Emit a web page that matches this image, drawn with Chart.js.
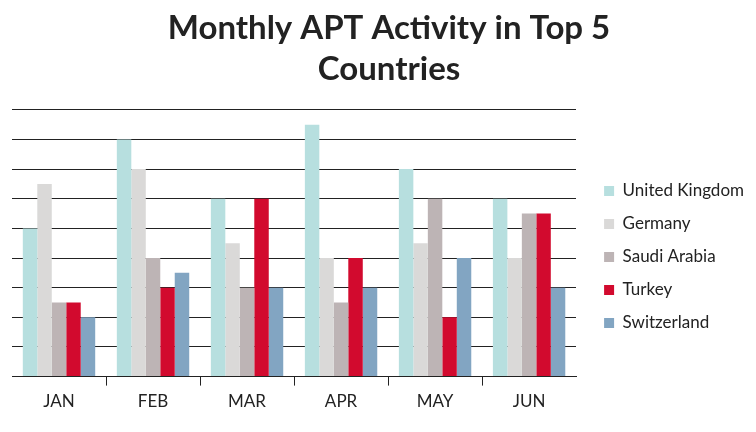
<!DOCTYPE html>
<html>
<head>
<meta charset="utf-8">
<script src="https://cdn.jsdelivr.net/npm/chart.js@4"></script>
<style>
    body { margin: 0; background: #fff; }
    #wrap { width: 756px; height: 432px; }
</style>
</head>
<body>
<div id="wrap"><canvas id="aptChart" width="756" height="432"></canvas></div>
<script>
// Chart data
const months = ['JAN', 'FEB', 'MAR', 'APR', 'MAY', 'JUN'];
const unitedKingdom = [5, 8, 6, 8.5, 7, 6];
const germany = [6.5, 7, 4.5, 4, 4.5, 4];
const saudiArabia = [2.5, 4, 3, 2.5, 6, 5.5];
const turkey = [2.5, 3, 6, 4, 2, 5.5];
const switzerland = [2, 3.5, 3, 3, 4, 3];

const inkColor = '#222222';
Chart.defaults.font.family = 'Lato';
Chart.defaults.color = inkColor;

// hide the grid ticks at both ends of the category axis
function innerTickColor(ctx) {
    return ctx.index > 0 ? inkColor : 'transparent';
}

// the original title sits a bit right of the canvas centre
const titleNudge = {
    id: 'titleNudge',
    afterLayout(chart) {
        chart.titleBlock.left += 6;
        chart.titleBlock.right += 6;
    }
};

const ctx = document.getElementById('aptChart').getContext('2d');
const aptChart = new Chart(ctx, {
    type: 'bar',
    data: {
        labels: months,
        datasets: [
            { label: 'United Kingdom', data: unitedKingdom, backgroundColor: '#b7dfdf' },
            { label: 'Germany', data: germany, backgroundColor: '#dad9d8' },
            { label: 'Saudi Arabia', data: saudiArabia, backgroundColor: '#bdb4b5' },
            { label: 'Turkey', data: turkey, backgroundColor: '#d20a2e' },
            { label: 'Switzerland', data: switzerland, backgroundColor: '#82a5c2' }
        ]
    },
    plugins: [titleNudge],
    options: {
        responsive: false,
        animation: false,
        layout: {
            padding: { left: 12, right: 2, top: 0, bottom: 14 }
        },
        datasets: {
            bar: {
                barPercentage: 1,
                categoryPercentage: 0.77
            }
        },
        plugins: {
            title: {
                display: true,
                text: ['Monthly APT Activity in Top 5', 'Countries'],
                font: { size: 33, weight: 'bold', lineHeight: 1.24 },
                color: inkColor,
                padding: { top: 8, bottom: 20 }
            },
            legend: {
                position: 'right',
                // empty title only pushes the items down
                title: {
                    display: true,
                    text: ' ',
                    font: { size: 10 },
                    padding: { top: 0, bottom: 84 }
                },
                labels: {
                    boxWidth: 10,
                    boxHeight: 10,
                    padding: 16,
                    font: { size: 17 },
                    color: inkColor
                }
            },
            tooltip: { enabled: false }
        },
        scales: {
            x: {
                grid: {
                    drawOnChartArea: false,
                    drawTicks: true,
                    tickLength: 9,
                    color: innerTickColor
                },
                border: { display: true, color: inkColor, width: 1 },
                ticks: {
                    font: { size: 17 },
                    color: inkColor,
                    padding: 6
                }
            },
            y: {
                // sits on the right, no labels: it only leaves a gap before the legend
                position: 'right',
                min: 0,
                max: 9,
                ticks: { display: false, stepSize: 1 },
                border: { display: false },
                grid: {
                    color: inkColor,
                    lineWidth: 1,
                    drawTicks: false
                },
                afterFit(scale) {
                    scale.width = 12;
                }
            }
        }
    }
});
</script>
</body>
</html>
